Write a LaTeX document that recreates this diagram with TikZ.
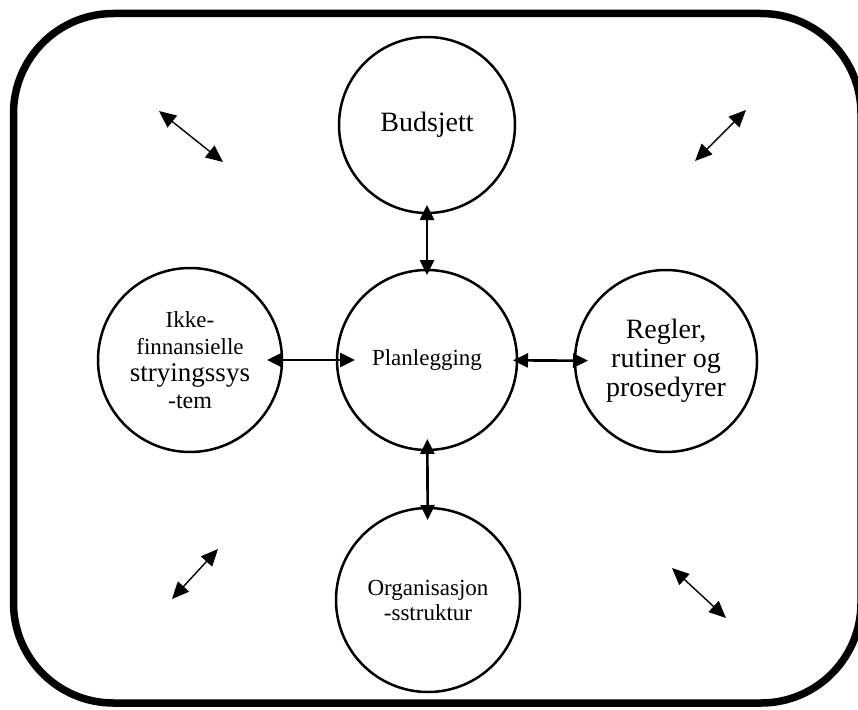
\documentclass[tikz,border=0pt]{standalone}
\usepackage{fontspec}
\setmainfont{Liberation Serif}
\usetikzlibrary{arrows.meta}
\begin{document}
\begin{tikzpicture}[x=1pt,y=-1pt,
  circ/.style={draw, circle, line width=2.5pt, inner sep=0pt, outer sep=0pt, align=center},
  conn/.style={line width=2.6pt, {Triangle[length=15pt,width=14pt]}-{Triangle[length=15pt,width=14pt]}},
  diag/.style={line width=1.4pt, {Triangle[length=17pt,width=15pt]}-{Triangle[length=17pt,width=15pt]}},
  frame/.style={line width=7.5pt, rounded corners=100pt}]
\clip (0,0) rectangle (858,709);
\draw[frame] (13.5,13.5) rectangle (861,703);

\node[circ, minimum size=176pt, font=\fontsize{28}{29}\selectfont] (bud) at (427,125) {Budsjett};
\node[circ, minimum size=180pt, font=\fontsize{23}{25}\selectfont] (plan) at (427,360) {Planlegging};
\node[circ, minimum size=184pt, font=\fontsize{23}{27}\selectfont] (left) at (190,360)
  {Ikke-\\finnansielle\\{\fontsize{27}{27}\selectfont stryingssys}\\{\fontsize{24}{27}\selectfont -tem}};
\node[circ, minimum size=182pt, font=\fontsize{28}{29}\selectfont] (right) at (666,361)
  {Regler,\\rutiner og\\prosedyrer};
\node[circ, minimum size=184pt, font=\fontsize{23}{25}\selectfont] (bot) at (428,600)
  {Organisasjon\\-sstruktur};

\draw[conn, shorten <=-8pt, shorten >=-5pt] (bud) -- (plan);
\draw[conn, shorten <=-15pt, shorten >=-18pt] (left) -- (plan);
\draw[conn, shorten <=-4pt, shorten >=-13pt] (plan) -- (right);
\draw[conn, shorten <=-11pt, shorten >=-12pt] (plan) -- (bot);

\coordinate (tla) at (159,111);
\coordinate (tlb) at (223,162);
\coordinate (tra) at (695,161);
\coordinate (trb) at (746,110);
\coordinate (bla) at (172,599);
\coordinate (blb) at (218,549);
\coordinate (bra) at (672,568);
\coordinate (brb) at (726,618);
\draw[diag] (tla) -- (tlb);
\draw[diag] (tra) -- (trb);
\draw[diag] (bla) -- (blb);
\draw[diag] (bra) -- (brb);
\end{tikzpicture}
\end{document}
